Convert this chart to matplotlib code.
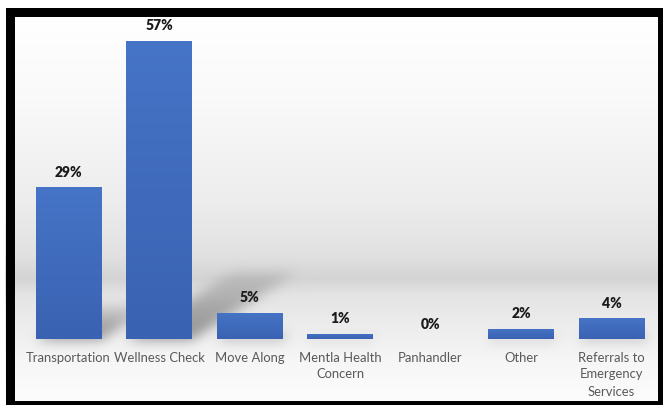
import numpy as np
import matplotlib.pyplot as plt
from matplotlib.patches import Rectangle
from matplotlib.transforms import IdentityTransform

categories = ['Transportation', 'Wellness Check', 'Move Along', 'Mentla Health\nConcern',
              'Panhandler', 'Other', 'Referrals to\nEmergency\nServices']
percent = [29, 57, 5, 1, 0, 2, 4]

W, H = 663, 405
plt.rcParams['font.family'] = ['Lato', 'DejaVu Sans']

fig = plt.figure(figsize=(W / 100, H / 100), dpi=100)
fig.patch.set_facecolor('white')

# background layer (gradient + floor shadows), filled in after layout is known
bg = fig.add_axes([0, 0, 1, 1])
bg.set_axis_off()
bg.set_zorder(0)

ax = fig.add_axes([23.25 / W, 66 / H, 633.5 / W, 314 / H])
ax.set_zorder(1)
ax.patch.set_alpha(0)
ax.set_xlim(-0.5, 6.5)
ax.set_ylim(0, 60)

x = np.arange(len(categories))
bars = ax.bar(x, percent, width=0.72, color='#4472C4', zorder=3)

# vertical gradient inside each bar
grad = np.linspace(0, 1, 100)[:, None]
top_c = np.array([0x46, 0x74, 0xC6]) / 255
bot_c = np.array([0x3A, 0x62, 0xB2]) / 255
grad_img = top_c * (1 - grad[..., None]) + bot_c * grad[..., None]
for b in bars:
    if b.get_height() <= 0:
        continue
    im = ax.imshow(grad_img, extent=[b.get_x(), b.get_x() + b.get_width(), 0, b.get_height()],
                   aspect='auto', zorder=4, interpolation='bilinear')
    im.set_clip_path(b)

for xi, v in zip(x, percent):
    ax.annotate(f'{v}%', (xi, v), xytext=(0, 6), textcoords='offset points',
                ha='center', va='bottom', fontsize=10, fontweight='heavy',
                color='#1a1a1a', annotation_clip=False)

ax.set_xticks(x)
ax.set_xticklabels(categories, fontsize=9.4, color='#595959', linespacing=1.5, va='top')
ax.tick_params(axis='x', length=0, pad=9)
ax.set_yticks([])
for s in ax.spines.values():
    s.set_visible(False)

fig.canvas.draw()

# background gradient, white at top, grey near the floor, fading out below
rows = np.arange(H)
gray = np.interp(rows, [0, 16, 100, 200, 255, 278, 295, 325, 360, 400, 405],
                 [255, 255, 249, 237, 225, 212, 228, 237, 246, 252, 252]) / 255
img = np.ones((H, W, 3)) * gray[:, None, None]

# perspective floor shadows cast by each bar
YY, XX = np.mgrid[0:H, 0:W]
shade = np.zeros((H, W))
for b in bars:
    bb = b.get_window_extent()
    h = bb.height
    if h < 1:
        continue
    base = H - bb.y0
    dx, dy = 0.37 * h, 0.235 * h
    t = (base - YY) / dy
    inside = (t >= 0) & (t <= 1) & (XX >= bb.x0 + t * dx) & (XX <= bb.x1 + t * dx)
    shade = np.maximum(shade, np.where(inside, 0.40 * np.clip(1 - t, 0, 1) ** 0.6, 0))

sig = 6
k = np.exp(-np.arange(-3 * sig, 3 * sig + 1) ** 2 / (2 * sig ** 2))
k /= k.sum()
shade = np.apply_along_axis(lambda r: np.convolve(r, k, mode='same'), 1, shade)
shade = np.apply_along_axis(lambda c: np.convolve(c, k, mode='same'), 0, shade)
img = img * (1 - shade[..., None])

bg.imshow(img, extent=[0, W, 0, H], aspect='auto', interpolation='bilinear')
bg.set_xlim(0, W)
bg.set_ylim(0, H)

# thick black frame, partly cut off on the right and bottom
frame = Rectangle((10, 0.5), 651.5, 392.5, transform=IdentityTransform(),
                  fill=False, ec='black', lw=9 * 72 / 100)
fig.add_artist(frame)
# keep a white margin above and left of the frame
fig.add_artist(Rectangle((0, 397), W, 8, transform=IdentityTransform(), fc='white', ec='none'))
fig.add_artist(Rectangle((0, 0), 5, H, transform=IdentityTransform(), fc='white', ec='none'))

fig.savefig('out.png', dpi=100)
